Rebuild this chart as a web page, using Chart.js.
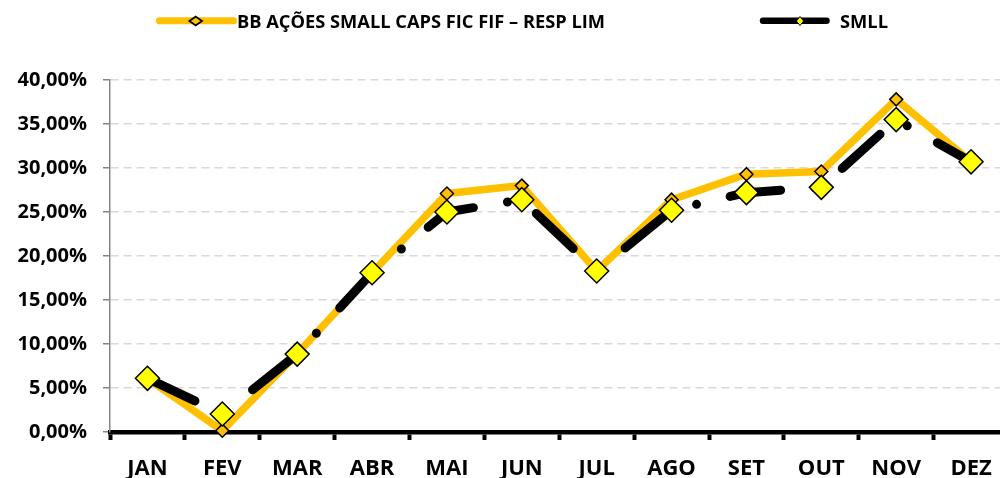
<!DOCTYPE html>
<html>
<head>
<meta charset="utf-8">
<script src="https://cdn.jsdelivr.net/npm/chart.js@4.4.1/dist/chart.umd.min.js"></script>
<style>
  html, body { margin: 0; padding: 0; background: #fff; overflow: hidden; }
  #wrap { position: relative; width: 1000px; height: 478px; overflow: hidden; }
  #js--chart { position: absolute; left: 0; top: 0; }
  #js--keys { position: absolute; left: 0; top: 0; }
  .key-text { position: absolute; top: 10.7px; font-family: "Open Sans", sans-serif; font-weight: bold; font-size: 18px; line-height: 20px; color: #000; white-space: nowrap; transform-origin: 0 50%; }
</style>
</head>
<body>
<div id="wrap">
  <canvas id="js--chart" width="1022" height="478"></canvas>

  <svg id="js--keys" width="1000" height="40">
    <line x1="159.5" y1="20.8" x2="233.5" y2="20.8" stroke="#FFC000" stroke-width="7" stroke-linecap="round"/>
    <polygon points="189.4,21 195.7,16.6 202,21 195.7,25.4" fill="#FFC000" stroke="#000" stroke-width="1.8"/>
    <line x1="763" y1="20.8" x2="826.5" y2="20.8" stroke="#000" stroke-width="6.5" stroke-linecap="round"/>
    <polygon points="796.4,21 800,16.5 803.6,21 800,25.5" fill="#FFFF00" stroke="#000" stroke-width="1"/>
  </svg>
  <div class="key-text" id="js--key1" style="left:237px;" data-w="368"></div>
  <div class="key-text" id="js--key2" style="left:840px;" data-w="48"></div>
</div>

<script>
const months = ["JAN", "FEV", "MAR", "ABR", "MAI", "JUN", "JUL", "AGO", "SET", "OUT", "NOV", "DEZ"]

const fundName = "BB AÇÕES SMALL CAPS FIC FIF – RESP LIM"
const fundValues = [6.1, 0.15, 8.9, 18.1, 27.1, 28.0, 18.3, 26.4, 29.3, 29.6, 37.8, 30.7]

const indexName = "SMLL"
const indexValues = [6.1, 2.05, 8.85, 18.1, 25.0, 26.4, 18.3, 25.2, 27.2, 27.8, 35.5, 30.7]

const yTicks = [0, 5, 10, 15, 20, 25, 30, 35, 40]

// html legend text, nudged to the width it has in the picture
const keys = [["js--key1", fundName], ["js--key2", indexName]]
keys.forEach(([id, txt]) => {
    const el = document.getElementById(id)
    el.innerText = txt
    const k = Number(el.dataset.w) / el.getBoundingClientRect().width
    el.style.transform = "scaleX(" + k + ")"
})

const fmtPct = (v) => v.toFixed(2).replace(".", ",") + "%"

const data = {
    labels: months,
    datasets: [
        {
            label: fundName,
            data: fundValues,
            borderColor: "#FFC000",
            borderWidth: 7.5,
            borderJoinStyle: "round",
            tension: 0,
            pointStyle: "rectRot",
            pointRadius: 6.5,
            pointBackgroundColor: "#FFC000",
            pointBorderColor: "#000",
            pointBorderWidth: 1.5,
            clip: false,
            order: 2,
        },
        {
            label: indexName,
            data: indexValues,
            borderColor: "#000",
            borderWidth: 9,
            borderDash: [51, 34.5, 0, 34.5],
            borderDashOffset: -1.6,
            borderCapStyle: "round",
            borderJoinStyle: "round",
            tension: 0,
            pointStyle: "rectRot",
            pointRadius: 12,
            pointBackgroundColor: "#FFFF00",
            pointBorderColor: "#000",
            pointBorderWidth: 1.5,
            clip: false,
            order: 1,
        },
    ],
}

const config = {
    type: "line",
    data: data,
    options: {
        responsive: false,
        animation: false,
        devicePixelRatio: 1,
        layout: { padding: { top: 80, right: 1, left: 0, bottom: 0 } },
        plugins: {
            legend: { display: false },
            tooltip: { enabled: false },
        },
        scales: {
            x: {
                offset: true,
                grid: {
                    offset: true,
                    drawOnChartArea: false,
                    drawTicks: true,
                    tickLength: 8,
                    tickWidth: 4,
                    tickColor: "#000",
                },
                border: { color: "#000", width: 4.5 },
                ticks: {
                    color: "#000",
                    padding: 16,
                    maxRotation: 0,
                    font: { family: "Open Sans", weight: "bold", size: 22 },
                },
                afterFit: (s) => { s.height = 46 },
            },
            y: {
                min: 0,
                max: 40,
                afterBuildTicks: (s) => { s.ticks = yTicks.map((v) => ({ value: v })) },
                grid: {
                    color: (ctx) => (ctx.tick && ctx.tick.value === 0 ? "rgba(0,0,0,0)" : "#d9d9d9"),
                    lineWidth: 1.5,
                    tickLength: 7,
                    tickWidth: 1.5,
                    tickColor: "#868686",
                    tickBorderDash: [],
                },
                border: { color: "#868686", width: 1.5, dash: [8, 5] },
                ticks: {
                    color: "#000",
                    padding: 16,
                    callback: (v) => fmtPct(v),
                    font: { family: "Open Sans", weight: "bold", size: 20 },
                },
                afterFit: (s) => { s.width = 110 },
            },
        },
    },
}

new Chart(document.getElementById("js--chart"), config)
</script>
</body>
</html>
